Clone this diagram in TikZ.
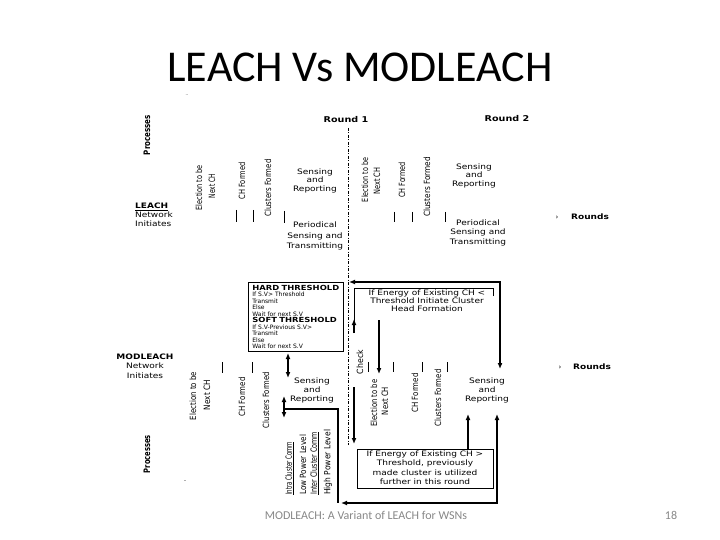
\documentclass[tikz,border=0pt]{standalone}
\usepackage{fontspec}
\usepackage{graphicx}
\usetikzlibrary{arrows.meta}
\setmainfont{DejaVu Sans}
\newfontfamily\titlefont{Carlito}
\newcommand\hs[1]{\scalebox{1.2}[1]{#1}}
\newcommand\ctext[1]{\hs{\begin{tabular}{@{}c@{}}#1\end{tabular}}}
\newcommand\ltext[1]{\hs{\begin{tabular}{@{}l@{}}#1\end{tabular}}}
\newcommand\rlab[2]{\resizebox{#1pt}{6.5pt}{#2}}
\tikzset{
  lbl/.style={inner sep=0pt, font=\fontsize{7.5}{8.5}\selectfont},
  rot/.style={inner sep=0pt, rotate=90},
  tickline/.style={line width=0.9pt},
  heavy/.style={line width=1.3pt},
  arr/.style={line width=1.3pt, -{Latex[length=6pt,width=5pt]}},
  darr/.style={line width=1.3pt, {Latex[length=6pt,width=5pt]}-{Latex[length=6pt,width=5pt]}},
  rnd/.style={inner sep=0pt, font=\fontsize{8}{9}\selectfont\bfseries},
  dashdot/.style={line width=0.8pt, dash pattern=on 3pt off 1.5pt on 1pt off 1.5pt},
}
\begin{document}
\begin{tikzpicture}[x=1pt,y=-1pt]
\useasboundingbox (0,0) rectangle (720,540);
% title and footer
\node[inner sep=0pt, anchor=base, font=\titlefont\fontsize{44}{50}\selectfont] (title) at (360,82) {LEACH Vs MODLEACH};
\node[inner sep=0pt, font=\fontsize{4}{4}\selectfont] (dots) at (187,95) {..};
\node[inner sep=0pt, anchor=base, text=black!47, font=\titlefont\fontsize{12}{14}\selectfont] (foot) at (366,519) {MODLEACH: A Variant of LEACH for WSNs};
\node[inner sep=0pt, anchor=base, text=black!47, font=\titlefont\fontsize{12}{14}\selectfont] (num) at (671,519) {18};

% round labels and dashed separator
\node[rnd] (r1) at (346,120) {\hs{Round 1}};
\node[rnd] (r2) at (507,119) {\hs{Round 2}};
\coordinate (dtop) at (348,128);
\coordinate (dbot) at (348,445);
\draw[dashdot] (dtop) -- (dbot);

% ---------------- LEACH row ----------------
\node[rot] (proc1) at (147,135) {\rlab{40}{\bfseries Processes}};
\node[lbl, anchor=west, font=\fontsize{7.5}{9}\selectfont] (leach) at (135,216) {\ltext{\underline{\bfseries LEACH}\\Network\\Initiates}};
\node[rot] (le1a) at (199,188) {\rlab{45}{Election to be}};
\node[rot] (le1b) at (212,186) {\rlab{24}{Next CH}};
\node[rot] (lc1) at (242,181) {\rlab{37}{CH Formed}};
\node[rot] (lk1) at (268,188) {\rlab{57}{Clusters Formed}};
\draw[tickline] (236,210) -- (236,222);
\draw[tickline] (253,210) -- (253,222);
\draw[tickline] (284,211) -- (284,223);
\node[lbl] (ls1) at (315,181) {\ctext{Sensing\\and\\Reporting}};
\node[lbl, font=\fontsize{7.5}{10}\selectfont] (lp1) at (315,236) {\ctext{Periodical\\Sensing and\\Transmitting}};

\node[rot] (le2a) at (365,180) {\rlab{44}{Election to be}};
\node[rot] (le2b) at (377,181) {\rlab{27}{Next CH}};
\node[rot] (lc2) at (402,180) {\rlab{36}{CH Formed}};
\node[rot] (lk2) at (427,187) {\rlab{60}{Clusters Formed}};
\draw[tickline] (394,212) -- (394,222);
\draw[tickline] (412,212) -- (412,222);
\draw[tickline] (445,212) -- (445,222);
\node[lbl] (ls2) at (474,176) {\ctext{Sensing\\and\\Reporting}};
\node[lbl, font=\fontsize{7.5}{9.5}\selectfont] (lp2) at (478,233) {\ctext{Periodical\\Sensing and\\Transmitting}};
\node[inner sep=0pt, font=\fontsize{7}{8}\selectfont] (lar) at (557,218) {›};
\node[inner sep=0pt, font=\fontsize{7.5}{8}\selectfont\bfseries] (lrounds) at (590,217) {\hs{Rounds}};

% ---------------- MODLEACH row ----------------
\node[draw, line width=0.7pt, anchor=north west, inner xsep=4pt, inner ysep=2.5pt, text width=87pt, align=left, font=\fontsize{6}{6.5}\selectfont] (hard) at (248,282)
 {\hs{\fontsize{7}{6.5}\selectfont\bfseries HARD THRESHOLD}\\If S.V> Threshold\\Transmit\\Else\\Wait for next S.V\\
  \hs{\fontsize{7}{6.5}\selectfont\bfseries SOFT THRESHOLD}\\If S.V-Previous S.V>\\Transmit\\Else\\Wait for next S.V};

\node[lbl, font=\fontsize{7.5}{9.5}\selectfont] (mod) at (145,367) {\ctext{\bfseries MODLEACH\\Network\\Initiates}};
\node[rot] (me1a) at (193,396) {\rlab{48}{Election to be}};
\node[rot] (me1b) at (207,395) {\rlab{30}{Next CH}};
\node[rot] (mc1) at (242,397) {\rlab{39}{CH Formed}};
\node[rot] (mk1) at (266,400) {\rlab{56}{Clusters Formed}};
\draw[tickline] (222,362) -- (222,373);
\draw[tickline] (252,362) -- (252,373);
\node[lbl, font=\fontsize{7.5}{9}\selectfont] (ms1) at (312,391) {\ctext{Sensing\\and\\Reporting}};

\node[rot, anchor=west] (ic1) at (289.5,495) {\rlab{53}{\underline{Intra Cluster Comm}}};
\node[rot, anchor=west] (ic2) at (303,495) {\rlab{60}{Low Power Level}};
\node[rot, anchor=west] (ic3) at (314.5,495) {\rlab{63}{\underline{Inter Cluster Comm}}};
\node[rot, anchor=west] (ic4) at (328,495) {\rlab{65}{High Power Level}};
\node[rot] (proc2) at (147,454) {\rlab{38}{\bfseries Processes}};
\node[inner sep=0pt, font=\fontsize{5}{5}\selectfont] (mark) at (185,482) {ˇ};

\node[rot] (check) at (360,362) {\rlab{24}{Check}};
\node[rot] (me2a) at (374,403) {\rlab{47}{Election to be}};
\node[rot] (me2b) at (385,401) {\rlab{28}{Next CH}};
\node[rot] (mc2) at (415,393) {\rlab{39}{CH Formed}};
\node[rot] (mk2) at (438,398) {\rlab{57}{Clusters Formed}};
\draw[tickline] (368,362) -- (368,372);
\draw[tickline] (393,362) -- (393,372);
\draw[tickline] (422,362) -- (422,372);
\draw[tickline] (447,362) -- (447,372);
\node[lbl, font=\fontsize{7.5}{9}\selectfont] (ms2) at (487,391) {\ctext{Sensing\\and\\Reporting}};
\node[inner sep=0pt, font=\fontsize{7}{8}\selectfont] (mar) at (560,368) {›};
\node[inner sep=0pt, font=\fontsize{7.5}{8}\selectfont\bfseries] (mrounds) at (592,367) {\hs{Rounds}};

% threshold boxes
\node[lbl, font=\fontsize{7.5}{7.2}\selectfont] (low) at (427,302) {\ctext{If Energy of Existing CH <\\Threshold Initiate Cluster\\Head Formation}};
\draw[line width=0.8pt] (493,296) -- (493,288) -- (354,288) -- (354,333);
\node[draw, line width=0.8pt, minimum width=136pt, minimum height=39pt, inner sep=0pt, font=\fontsize{7.5}{9.3}\selectfont] (high) at (425,468.5) {\ctext{If Energy of Existing CH >\\Threshold, previously\\made cluster is utilized\\further in this round}};

% connectors
\coordinate (hb) at (288,353);
\coordinate (sr1t) at (288,378);
\draw[darr] (hb) -- (sr1t);
\coordinate (sr1b) at (284,396);
\coordinate (sr1c) at (284,418);
\draw[darr] (sr1b) -- (sr1c);
\coordinate (j1) at (284,409);
\coordinate (j2) at (338,409);
\coordinate (j3) at (338,503);
\draw[heavy] (j1) -- (j2) -- (j3);
\coordinate (b1) at (341,503);
\coordinate (b2) at (497,503);
\coordinate (b3) at (497,414);
\draw[darr] (b1) -- (b2) -- (b3);
\draw[arr] (high.north -| 468,0) -- (468,414);
\coordinate (c1) at (354,333);
\coordinate (c2) at (354,319);
\draw[arr] (c1) -- (c2);
\coordinate (c3) at (354,387);
\draw[arr] (c3) -- (354,444);
\coordinate (t1) at (349,282);
\coordinate (t2) at (500,282);
\coordinate (t3) at (500,369);
\draw[darr] (t1) -- (t2) -- (t3);
\coordinate (d1) at (379,320);
\coordinate (d2) at (379,374);
\draw[arr] (d1) -- (d2);
\end{tikzpicture}
\end{document}
